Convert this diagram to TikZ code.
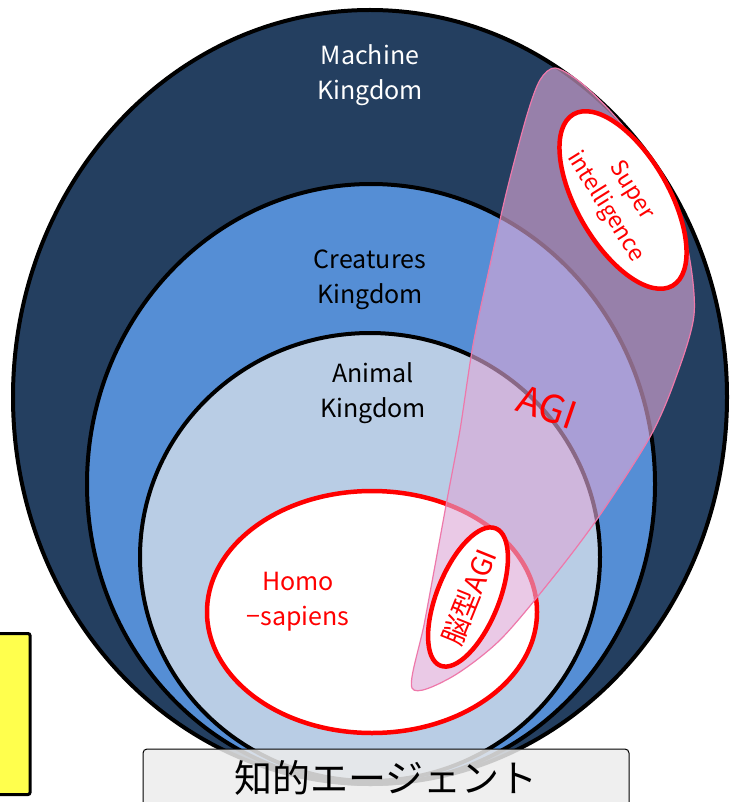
\documentclass[tikz,border=0pt]{standalone}
\usepackage{fontspec}
\setmainfont{Noto Sans CJK JP}
\usepackage{tikz}
\usetikzlibrary{positioning,calc}

\definecolor{machineblue}{RGB}{36,63,96}
\definecolor{creatureblue}{RGB}{85,142,213}
\definecolor{animalblue}{RGB}{185,205,229}
\definecolor{agifill}{RGB}{222,168,216}
\definecolor{agiedge}{RGB}{238,120,170}
\definecolor{noteyellow}{RGB}{255,255,77}
\definecolor{boxgray}{RGB}{236,236,236}

\begin{document}
\begin{tikzpicture}[x=1pt, y=-1pt, font=\fontsize{25}{35}\selectfont]
    \tikzstyle{kingdom}=[draw=black, line width=4pt]
    \tikzstyle{species}=[draw=red, line width=4.5pt, fill=white]
    \tikzstyle{kingdomname}=[align=center, text=black]
    \tikzstyle{speciesname}=[align=center, text=red]
    \tikzstyle{agiarea}=[draw=agiedge, line width=1.2pt, fill=agifill, fill opacity=0.62]
    \tikzstyle{agentbox}=[draw=black, line width=1pt, rounded corners=4pt, fill=boxgray, fill opacity=0.85, text opacity=1, minimum width=486pt, minimum height=58pt, inner sep=0pt]
    \tikzstyle{notebox}=[draw=black, line width=3pt, rounded corners=2pt, fill=noteyellow, minimum width=60pt, minimum height=161pt]

    \useasboundingbox (0,0) rectangle (729,802);
    \clip (0,0) rectangle (729,802);

    % kingdoms, outside in
    \path[kingdom, fill=machineblue]  (370,397) ellipse [x radius=357pt, y radius=387pt];
    \path[kingdom, fill=creatureblue] (371,484) ellipse [x radius=284pt, y radius=300pt];
    \path[kingdom, fill=animalblue]   (370,557) ellipse [x radius=230pt, y radius=224pt];
    \path[species] (372,612) ellipse [x radius=165pt, y radius=121pt];

    \node[kingdomname, text=white] (machine) at (370,75)  {Machine\\Kingdom};
    \node[kingdomname] (creatures)           at (370,280) {Creatures\\Kingdom};
    \node[kingdomname] (animal)              at (373,393) {Animal\\Kingdom};
    \node[speciesname] (homo)                at (298,602) {Homo\\−sapiens};

    % AGI region over everything
    \draw[agiarea] plot[smooth cycle, tension=0.5] coordinates {
        (412,688) (425,620) (447,500) (460,430) (473,345) (490,265) (507,190)
        (527,115) (540,80) (555,68) (580,82) (611,112) (643,152) (670,200)
        (688,250) (694,315) (675,380) (650,437) (600,515) (555,575) (500,640) (450,678)};
    \path[species, rotate around={-60:(623,200)}] (623,200) ellipse [x radius=99pt, y radius=46pt];
    \path[species, rotate around={68:(468,597)}]  (468,597) ellipse [x radius=74pt, y radius=31pt];
    \node[speciesname, rotate=-58, font=\fontsize{23}{31}\selectfont] (super) at (618,199) {Super\\intelligence};
    \node[speciesname, rotate=68, font=\fontsize{28}{34}\selectfont]  (brain) at (469,597) {脳型AGI};
    \node[speciesname, rotate=-19, font=\fontsize{38}{40}\selectfont] (agi)   at (547,407) {AGI};

    \node[agentbox, font=\fontsize{38}{40}\selectfont] (agent) at (386,778) {知的エージェント};
    \node[notebox] (note) at (0,714) {};
\end{tikzpicture}
\end{document}
